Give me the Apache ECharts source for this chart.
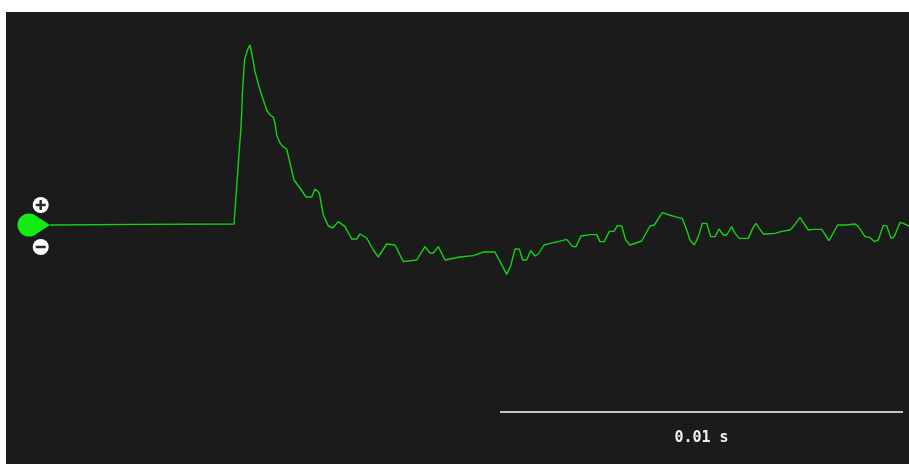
<!DOCTYPE html>
<html>
<head>
<meta charset="utf-8">
<style>
  html, body { margin: 0; padding: 0; background: #ffffff; }
  #chart { width: 909px; height: 464px; }
</style>
<script src="https://cdn.jsdelivr.net/npm/echarts@6/dist/echarts.min.js"></script>
</head>
<body>
<div id="chart"></div>
<script>
// Recorded trace: time in milliseconds, amplitude in arbitrary units (baseline = 0)
const timeMs = [
  0, 2.233, 4.566, 4.697, 4.732, 4.757, 4.772, 4.797, 4.831, 4.881,
  4.921, 4.963, 4.988, 5.045, 5.087, 5.144, 5.211, 5.278, 5.335, 5.377,
  5.459, 5.541, 5.583, 5.625, 5.707, 5.782, 5.873, 5.955, 6.055, 6.203,
  6.352, 6.494, 6.576, 6.682, 6.782, 6.906, 7.015, 7.154, 7.32, 7.486,
  7.61, 7.692, 7.858, 8.022, 8.146, 8.355, 8.561, 8.767, 9.099, 9.305,
  9.429, 9.511, 9.635, 9.801, 9.926, 10.174, 10.504, 10.752, 11.042, 11.332,
  11.431, 11.538, 11.645, 11.729, 11.829, 11.928, 12.035, 12.117, 12.258, 12.407,
  12.613, 12.821, 12.97, 13.052, 13.176, 13.4, 13.566, 13.648, 13.754, 13.878,
  13.995, 14.077, 14.186, 14.285, 14.392, 14.474, 14.682, 14.888, 14.995, 15.194,
  15.367, 15.509, 15.69, 15.799, 15.881, 15.988, 16.087, 16.186, 16.295, 16.395,
  16.501, 16.6, 16.707, 16.792, 16.916, 16.998, 17.104, 17.328, 17.437, 17.519,
  17.6, 17.7, 17.799, 17.99, 18.156, 18.362, 18.444, 18.61, 18.816, 18.941,
  19.149, 19.33, 19.545, 19.769, 19.975, 20.057, 20.223, 20.347, 20.454, 20.553,
  20.677, 20.762, 20.868, 20.95, 21.092, 21.174, 21.315
];
const amplitude = [
  0, 0.03, 0.05, 3.75, 4.67, 5.6, 6.5, 7.35, 8.3, 8.62,
  8.85, 9.0, 8.75, 8.17, 7.67, 7.25, 6.75, 6.35, 6.0, 5.75,
  5.5, 5.39, 5.1, 4.5, 4.1, 3.92, 3.8, 3.1, 2.25, 1.85,
  1.4, 1.4, 1.8, 1.6, 0.5, -0.05, -0.15, 0.17, -0.08, -0.7,
  -0.7, -0.45, -0.65, -1.25, -1.6, -0.95, -1.0, -1.83, -1.75, -1.08,
  -1.4, -1.4, -1.08, -1.75, -1.7, -1.6, -1.53, -1.35, -1.35, -2.47,
  -2.05, -1.2, -1.2, -1.75, -1.75, -1.28, -1.55, -1.45, -1.0, -0.92,
  -0.83, -0.72, -1.08, -1.08, -0.55, -0.48, -0.48, -0.83, -0.83, -0.32,
  -0.32, -0.03, -0.05, -0.75, -1.0, -0.95, -0.8, -0.05, 0, 0.62,
  0.5, 0.42, 0.32, -0.25, -0.75, -1.0, -0.58, 0.08, 0.08, -0.58,
  -0.58, -0.2, -0.5, -0.5, -0.08, -0.42, -0.67, -0.67, -0.17, 0.08,
  -0.17, -0.45, -0.45, -0.42, -0.32, -0.25, -0.08, 0.38, -0.25, -0.22,
  -0.22, -0.78, 0, 0, 0.05, -0.08, -0.58, -0.62, -0.83, -0.75,
  -0.03, -0.03, -0.67, -0.58, 0.13, 0.08, -0.05
];

// Time scale bar (10 ms = 0.01 s)
const scaleBarStartMs = 11.166;
const scaleBarLengthMs = 10;
const scaleBarLevel = -9.35;
const scaleBarLabel = '0.01 s';

const traceColor = '#14d214';
const handleColor = '#14ea14';

const chart = echarts.init(document.getElementById('chart'), null, { renderer: 'canvas' });

const points = timeMs.map((t, i) => [t, amplitude[i]]);

chart.setOption({
  animation: false,
  backgroundColor: '#ffffff',
  grid: {
    show: true,
    left: 6, right: 0, top: 12, bottom: 0,
    backgroundColor: '#1b1b1b',
    borderWidth: 0
  },
  xAxis: {
    type: 'value',
    min: -1.092, max: 21.315,
    show: false
  },
  yAxis: {
    type: 'value',
    min: -11.95, max: 10.65,
    show: false
  },
  series: [{
    type: 'line',
    data: points,
    showSymbol: false,
    lineStyle: { color: traceColor, width: 1.4 },
    silent: true
  }]
});

// Channel handle, zoom buttons and time scale bar placed via axis scales
const origin = chart.convertToPixel({ gridIndex: 0 }, [0, 0]);
const barA = chart.convertToPixel({ gridIndex: 0 }, [scaleBarStartMs, scaleBarLevel]);
const barB = chart.convertToPixel({ gridIndex: 0 }, [scaleBarStartMs + scaleBarLengthMs, scaleBarLevel]);

const r = 11.5, tipDist = 21;
const cx = origin[0] - tipDist, cy = origin[1];
const cosT = r / tipDist, sinT = Math.sqrt(1 - cosT * cosT);
const btnX = origin[0] - 9.3;

chart.setOption({
  graphic: [
    {
      type: 'group',
      children: [
        { type: 'circle', shape: { cx: cx, cy: cy, r: r }, style: { fill: handleColor } },
        { type: 'polygon', shape: { points: [
            [cx + r * cosT, cy - r * sinT], [origin[0], cy], [cx + r * cosT, cy + r * sinT], [cx, cy]
          ] }, style: { fill: handleColor } }
      ]
    },
    {
      type: 'group',
      children: [
        { type: 'circle', shape: { cx: btnX, cy: cy - 20, r: 8 }, style: { fill: '#ffffff' } },
        { type: 'rect', shape: { x: btnX - 5, y: cy - 21.25, width: 10, height: 2.5 }, style: { fill: '#2a2a2a' } },
        { type: 'rect', shape: { x: btnX - 1.25, y: cy - 25, width: 2.5, height: 10 }, style: { fill: '#2a2a2a' } },
        { type: 'circle', shape: { cx: btnX, cy: cy + 22, r: 8 }, style: { fill: '#ffffff' } },
        { type: 'rect', shape: { x: btnX - 5, y: cy + 20.75, width: 10, height: 2.5 }, style: { fill: '#2a2a2a' } }
      ]
    },
    {
      type: 'line',
      shape: { x1: barA[0], y1: barA[1], x2: barB[0], y2: barB[1] },
      style: { stroke: '#c4c4c4', lineWidth: 2 }
    },
    {
      type: 'text',
      x: (barA[0] + barB[0]) / 2,
      y: barA[1] + 26,
      style: {
        text: scaleBarLabel,
        fill: '#f0f0f0',
        font: 'bold 15px "DejaVu Sans Mono", monospace',
        align: 'center',
        verticalAlign: 'middle'
      }
    }
  ]
});
</script>
</body>
</html>
